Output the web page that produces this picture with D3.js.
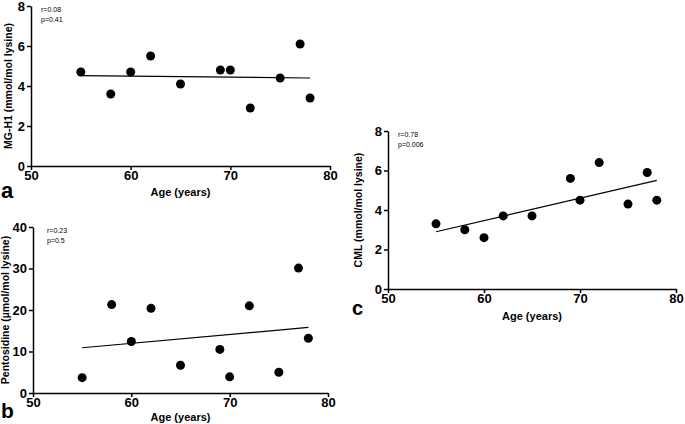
<!DOCTYPE html>
<html>
<head>
<meta charset="utf-8">
<script src="https://cdn.jsdelivr.net/npm/d3@7"></script>
<style>
  body { margin: 0; background: #fff; }
  svg { display: block; font-family: "Liberation Sans", Arial, sans-serif; }
  .tick text { font-weight: bold; font-size: 13px; fill: #000; }
  .axis path, .axis line { stroke: #000; stroke-width: 1.5; }
</style>
</head>
<body>
<div id="d3-container"></div>
<script>
/**
 * CONSTANTS AND DATA
 * */
const width = 685,
  height = 424;

const ages = [55, 58, 60, 62, 65, 69, 70, 72, 75, 77, 78];
const mgh1 = [4.7, 3.6, 4.7, 5.5, 4.1, 4.8, 4.8, 2.9, 4.4, 6.1, 3.4];
const pentosidine = [3.7, 21.3, 12.4, 20.4, 6.7, 10.5, 3.9, 21.0, 5.0, 30.1, 13.2];
const cml = [3.3, 3.0, 2.6, 3.7, 3.7, 5.6, 4.5, 6.4, 4.3, 5.9, 4.5];

// regression line ends (at age 55 and 78)
const fitAges = [55, 78];
const mgh1Fit = [4.52, 4.4];
const pentosidineFit = [10.9, 15.8];
const cmlFit = [2.9, 5.5];

const xTicks = [50, 60, 70, 80];

const svg = d3
  .select("#d3-container")
  .append("svg")
  .attr("width", width)
  .attr("height", height);

/**
 * one panel = one little scatterplot
 * */
function drawPanel(p) {
  const xScale = d3.scaleLinear().domain([50, 80]).range([p.left, p.right]);
  const yScale = d3.scaleLinear().domain([0, p.yMax]).range([p.bottom, p.top]);

  // x axis
  svg
    .append("g")
    .attr("class", "axis")
    .attr("transform", `translate(0,${p.bottom})`)
    .call(d3.axisBottom(xScale).tickValues(xTicks).tickSize(4).tickSizeOuter(0).tickPadding(1));

  // y axis
  svg
    .append("g")
    .attr("class", "axis")
    .attr("transform", `translate(${p.left},0)`)
    .call(d3.axisLeft(yScale).tickValues(p.yTicks).tickSize(4).tickSizeOuter(0).tickPadding(2));

  // axis labels
  svg
    .append("text")
    .attr("x", (p.left + p.right) / 2)
    .attr("y", p.bottom + p.xLabelDy)
    .attr("text-anchor", "middle")
    .attr("font-weight", "bold")
    .attr("font-size", 11)
    .text("Age (years)");

  svg
    .append("text")
    .attr("transform", `translate(${p.left - p.yLabelDx},${(p.top + p.bottom) / 2}) rotate(-90)`)
    .attr("text-anchor", "middle")
    .attr("font-weight", "bold")
    .attr("font-size", 10.5)
    .text(p.yLabel);

  // r / p text
  svg
    .append("text")
    .attr("x", p.left + p.noteDx)
    .attr("y", p.top + 6)
    .attr("font-size", 7)
    .attr("fill", "#000")
    .text(p.r);
  svg
    .append("text")
    .attr("x", p.left + p.noteDx)
    .attr("y", p.top + 16)
    .attr("font-size", 7)
    .attr("fill", "#000")
    .text(p.p);

  // panel letter
  svg
    .append("text")
    .attr("x", p.letterX)
    .attr("y", p.letterY)
    .attr("font-size", p.letterSize)
    .attr("font-weight", "bold")
    .text(p.letter);

  // fit line
  svg
    .append("line")
    .attr("x1", xScale(fitAges[0]))
    .attr("y1", yScale(p.fit[0]))
    .attr("x2", xScale(fitAges[1]))
    .attr("y2", yScale(p.fit[1]))
    .attr("stroke", "#000")
    .attr("stroke-width", 1.2);

  // dots
  svg
    .append("g")
    .selectAll("circle")
    .data(p.values)
    .join("circle")
    .attr("cx", (d, i) => xScale(ages[i]))
    .attr("cy", d => yScale(d))
    .attr("r", 4.5)
    .attr("fill", "#000");
}

drawPanel({
  left: 31, right: 330, top: 6, bottom: 166,
  yMax: 8, yTicks: [0, 2, 4, 6, 8],
  yLabel: "MG-H1 (mmol/mol lysine)", yLabelDx: 19, xLabelDy: 30,
  values: mgh1, fit: mgh1Fit,
  r: "r=0.08", p: "p=0.41", noteDx: 10,
  letter: "a", letterX: 1, letterY: 198, letterSize: 22
});

drawPanel({
  left: 33, right: 328, top: 227, bottom: 393,
  yMax: 40, yTicks: [0, 10, 20, 30, 40],
  yLabel: "Pentosidine (µmol/mol lysine)", yLabelDx: 24, xLabelDy: 28,
  values: pentosidine, fit: pentosidineFit,
  r: "r=0.23", p: "p=0.5", noteDx: 14,
  letter: "b", letterX: 1, letterY: 418, letterSize: 21
});

drawPanel({
  left: 388, right: 676, top: 131, bottom: 289,
  yMax: 8, yTicks: [0, 2, 4, 6, 8],
  yLabel: "CML (mmol/mol lysine)", yLabelDx: 26, xLabelDy: 31,
  values: cml, fit: cmlFit,
  r: "r=0.78", p: "p=0.006", noteDx: 10,
  letter: "c", letterX: 352, letterY: 315, letterSize: 20
});
</script>
</body>
</html>
